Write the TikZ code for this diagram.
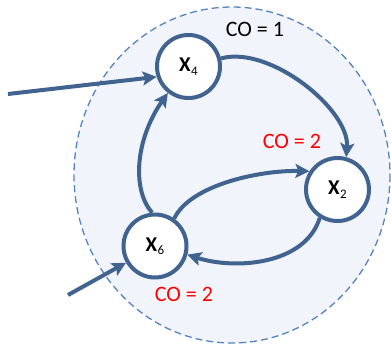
\documentclass[tikz,border=0pt]{standalone}
\usepackage{fontspec}
\setmainfont{Carlito}
\usetikzlibrary{arrows.meta}
\definecolor{edgeblue}{HTML}{41638F}
\definecolor{dashblue}{HTML}{5583C0}
\definecolor{bgfill}{HTML}{F1F5FB}
\newcommand{\vlab}[1]{\textbf{X}\kern0.5pt\raisebox{-3.5pt}{\fontsize{13}{14}\selectfont #1}}
\tikzset{
  vnode/.style={circle, draw=edgeblue, line width=4pt, fill=white, minimum size=63pt, inner sep=0pt, font=\fontsize{21}{23}\selectfont},
  conn/.style={draw=edgeblue, line width=4pt, -{Stealth[length=14pt,width=14pt,inset=3pt]}},
  colabel/.style={font=\fontsize{22}{24}\selectfont},
}
\begin{document}
\begin{tikzpicture}[x=1pt,y=-1pt]
\useasboundingbox (0,0) rectangle (391,343);
\begin{scope}
\clip (0,0) rectangle (391,343);
\draw[dashblue, fill=bgfill, line width=1.3pt, dash pattern=on 7pt off 4pt] (232,175) ellipse [x radius=158, y radius=168];
\end{scope}
\node[vnode] (x4) at (188.5,66.5) {\vlab{4}};
\node[vnode] (x2) at (337.5,189.5) {\vlab{2}};
\node[vnode] (x6) at (155,246) {\vlab{6}};
\node[colabel, text=black] (c1) at (255,29) {CO = 1};
\node[colabel, text=red] (c2) at (292,141) {CO = 2};
\node[colabel, text=red] (c3) at (184,294) {CO = 2};
\coordinate (in4) at (8,94);
\coordinate (in6) at (68,295);
\draw[conn] (in4) -- (x4.198);
\draw[conn] (in6) -- (x6.210);
\draw[conn] (x4.14) .. controls (270,45) and (350,110) .. (x2.75);
\draw[conn] (x6.95) .. controls (132,190) and (135,140) .. (x4.232);
\draw[conn] (x6.55) .. controls (190,185) and (260,170) .. (x2.147);
\draw[conn] (x2.238) .. controls (305,265) and (235,270) .. (x6.345);
\end{tikzpicture}
\end{document}
